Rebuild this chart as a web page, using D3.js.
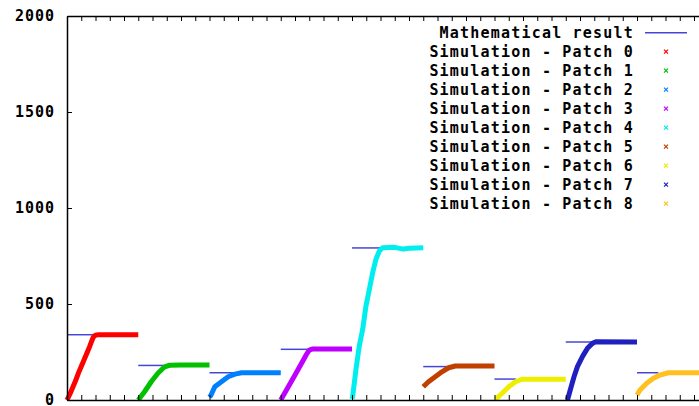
<!DOCTYPE html>
<html>
<head>
<meta charset="utf-8">
<script src="https://cdn.jsdelivr.net/npm/d3@7"></script>
<style>
  body { margin: 0; background: #fff; }
  svg { display: block; }
  text { font-family: "DejaVu Sans Mono", monospace; font-weight: bold; fill: #000; }
</style>
</head>
<body>
<script>
'use strict';

// x values are in plot units, each patch takes 50 units (5 ticks)
const patchNames = ["Patch 0", "Patch 1", "Patch 2", "Patch 3", "Patch 4",
                    "Patch 5", "Patch 6", "Patch 7", "Patch 8"];
const patchColors = ["#ff0000", "#00c000", "#0080ff", "#c000ff", "#00eeee",
                     "#c04000", "#eeee00", "#2020c0", "#ffc020"];
const mathStart = [0, 50, 100, 150, 200, 250, 300, 350, 400];
const mathEnd = [20, 68, 119, 171, 220, 267, 315, 371, 415];
const mathResult = [340, 180, 142, 264, 792, 174, 109, 302, 142];

const sim0 = [[0,0],[2,30],[4,65],[6,100],[8,140],[10,175],[12,210],[14,245],[16,280],[17.5,310],[18.5,328],[20,338],[22,340],[35,340],[50,340]];
const sim1 = [[50,0],[54.4,43],[59.1,95],[63.8,139],[68.5,173],[72,181],[80,182],[100,182]];
const sim2 = [[100,15],[101,25],[103.7,69],[108.4,95],[113.1,121],[117.8,135],[122.5,142],[150,142]];
const sim3 = [[150,0],[155,65],[160,130],[165,197],[168,237],[170,260],[172,265],[200,265]];
const sim4 = [[200,5],[200.5,21],[202.8,160],[205.1,281],[207.5,368],[209.8,490],[212.2,577],[214.5,663],[216.8,733],[219.2,776],[221.5,793],[230,795],[236,786],[240,790],[250,793]];
const sim5 = [[250,69],[253.7,95],[258.4,121],[263.1,147],[267.8,168],[272.5,177],[300,177]];
const sim6 = [[300.7,3],[305.4,35],[310,69],[314.7,95],[319.4,108],[350,108]];
const sim7 = [[351.2,0],[353.5,61],[355.8,121],[358.2,174],[361.7,226],[365.2,269],[368.7,295],[371.1,303],[400,302]];
const sim8 = [[400,26],[402.1,52],[406.8,87],[411.5,113],[416.1,130],[422,142],[450,142]];
const simulations = [sim0, sim1, sim2, sim3, sim4, sim5, sim6, sim7, sim8];

const yTicks = [0, 500, 1000, 1500, 2000];
const mathColor = "#4646d6";

const width = 699, height = 406;
const svg = d3.select("body").append("svg")
  .attr("width", width)
  .attr("height", height);

const x = d3.scaleLinear().domain([0, 450]).range([67, 708.25]);
const y = d3.scaleLinear().domain([0, 2000]).range([400, 16]);

// mathematical result lines
svg.selectAll(".math")
  .data(mathResult)
  .enter()
  .append("line")
    .attr("x1", (d, i) => x(mathStart[i]))
    .attr("x2", (d, i) => x(mathEnd[i]))
    .attr("y1", d => y(d))
    .attr("y2", d => y(d))
    .attr("stroke", mathColor)
    .attr("stroke-width", 1.5);

// simulation points, drawn as thick bands
let line = d3.line()
  .x(d => x(d[0]))
  .y(d => y(d[1]));

svg.selectAll(".sim")
  .data(simulations)
  .enter()
  .append("path")
    .attr("d", line)
    .attr("fill", "none")
    .attr("stroke", (d, i) => patchColors[i])
    .attr("stroke-width", 5)
    .attr("stroke-linejoin", "round");

// axes and border
let xTicks = d3.range(0, 451, 10);
svg.append("g")
  .attr("transform", "translate(0,400)")
  .call(d3.axisBottom(x).tickValues(xTicks).tickSize(-5).tickSizeOuter(0).tickFormat(""));
svg.append("g")
  .attr("transform", "translate(0,16)")
  .call(d3.axisTop(x).tickValues(xTicks).tickSize(-5).tickSizeOuter(0).tickFormat(""));
let yAxis = svg.append("g")
  .attr("transform", "translate(67,0)")
  .call(d3.axisLeft(y).tickValues(yTicks).tickSize(-5).tickSizeOuter(0)
    .tickPadding(12).tickFormat(d3.format("d")));

svg.selectAll(".domain").attr("stroke", "#000").attr("stroke-width", 1.5);
svg.selectAll(".tick line").attr("stroke", "#000");
yAxis.selectAll("text")
  .attr("fill", "#000")
  .style("font-family", "'DejaVu Sans Mono', monospace")
  .style("font-weight", "bold")
  .style("font-size", "15px")
  .style("letter-spacing", "1px");

// legend
let legend = svg.append("g");
let rowY = i => 32.7 + 19 * i;
let legendLabels = ["Mathematical result"].concat(patchNames.map(p => "Simulation - " + p));

legend.selectAll("text")
  .data(legendLabels)
  .enter()
  .append("text")
    .attr("x", 634)
    .attr("y", (d, i) => rowY(i))
    .attr("dy", "0.36em")
    .attr("text-anchor", "end")
    .style("font-size", "15px")
    .style("letter-spacing", "1.2px")
    .text(d => d);

legend.append("line")
  .attr("x1", 645).attr("x2", 687)
  .attr("y1", rowY(0)).attr("y2", rowY(0))
  .attr("stroke", mathColor)
  .attr("stroke-width", 1.5);

legend.selectAll(".mark")
  .data(patchColors)
  .enter()
  .append("path")
    .attr("d", (d, i) => {
      let cx = 666, cy = rowY(i + 1);
      return "M" + (cx - 2) + "," + (cy - 2) + "L" + (cx + 2) + "," + (cy + 2) +
             "M" + (cx - 2) + "," + (cy + 2) + "L" + (cx + 2) + "," + (cy - 2);
    })
    .attr("stroke", d => d)
    .attr("stroke-width", 1.2)
    .attr("fill", "none");
</script>
</body>
</html>
